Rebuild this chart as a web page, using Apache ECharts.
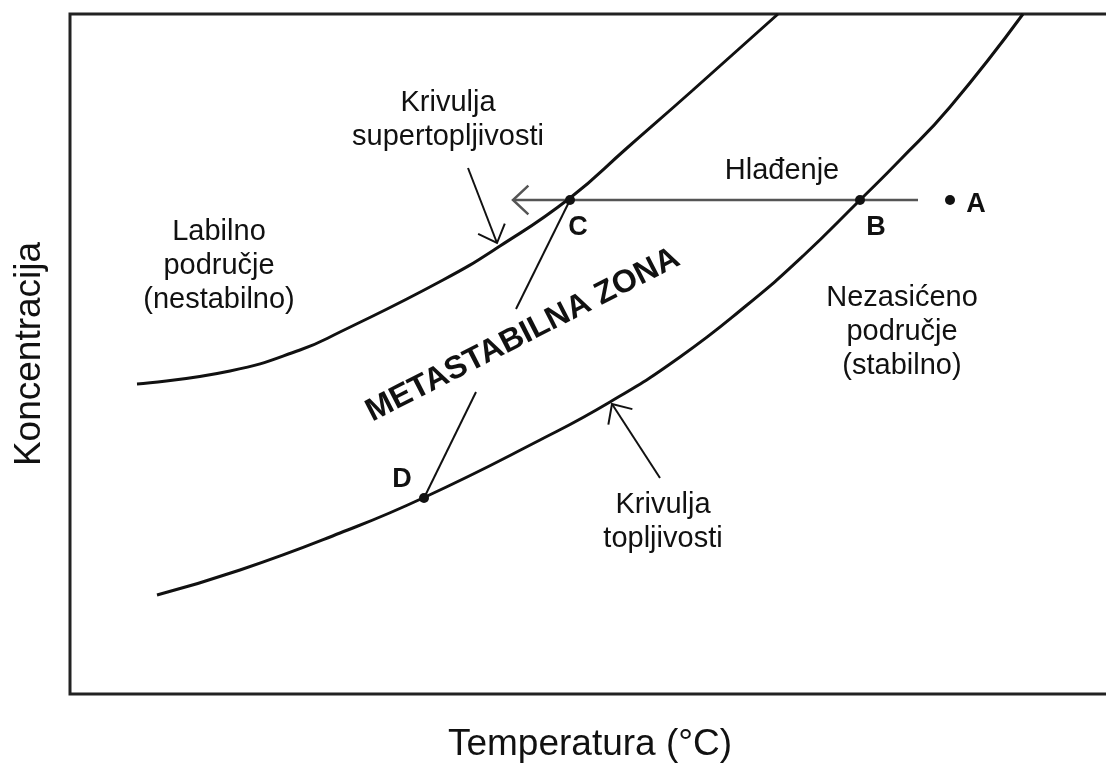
<!DOCTYPE html>
<html>
<head>
<meta charset="utf-8">
<script src="https://cdn.jsdelivr.net/npm/echarts@6/dist/echarts.min.js"></script>
<style>
  html, body { margin: 0; padding: 0; background: #fff; }
  #chart { width: 1106px; height: 763px; }
</style>
</head>
<body>
<div id="chart"></div>
<script>
// schematic units: x = temperature, y = concentration (plot box 0..1040 x 0..680)
const superSolubility = [[67, 310], [160, 323], [230, 344], [270, 362], [373, 414], [430, 448], [500, 496], [557, 546], [623, 604], [708, 680]];
const solubility = [[87, 99], [170, 124], [270, 161], [353, 196], [470, 254], [540, 292], [610, 337], [677, 389], [733, 438], [790, 494], [830, 534], [880, 587], [953, 680]];
const pointNames = ['A', 'B', 'C', 'D'];
const pointValues = [[880, 494], [790, 494], [500, 494], [354, 196]];
const pointLabelPos = [[906, 489], [806, 466], [508, 466], [332, 214]];
const coolingLine = [[848, 494], [443, 494]];
const cdSegments = [[[500, 494], [446, 385]], [[406, 302], [354, 196]]];
const arrows = [[[398, 526], [427, 451]], [[590, 216], [542, 290]]];
const labels = [
  { text: 'Krivulja\nsupertopljivosti', pos: [378, 574] },
  { text: 'Labilno\npodručje\n(nestabilno)', pos: [149, 428] },
  { text: 'Hlađenje', pos: [712, 523] },
  { text: 'Nezasićeno\npodručje\n(stabilno)', pos: [832, 362] },
  { text: 'Krivulja\ntopljivosti', pos: [593, 172] }
];
const zoneLabel = { text: 'METASTABILNA ZONA', pos: [453, 359], angle: 27 };

const font = 'Liberation Sans, Arial, sans-serif';
const chart = echarts.init(document.getElementById('chart'));

function arrowItem(params, api) {
  const p0 = api.coord([api.value(0), api.value(1)]);
  const p1 = api.coord([api.value(2), api.value(3)]);
  const gray = api.value(5) ? true : false;
  const color = gray ? '#555' : '#111';
  const width = gray ? 2.5 : 2;
  const children = [{
    type: 'line',
    shape: { x1: p0[0], y1: p0[1], x2: p1[0], y2: p1[1] },
    style: { stroke: color, lineWidth: width }
  }];
  if (api.value(4)) {
    const ang = Math.atan2(p0[1] - p1[1], p0[0] - p1[0]);
    const len = 21, spread = 0.75;
    const a1 = [p1[0] + len * Math.cos(ang + spread), p1[1] + len * Math.sin(ang + spread)];
    const a2 = [p1[0] + len * Math.cos(ang - spread), p1[1] + len * Math.sin(ang - spread)];
    children.push({
      type: 'polyline',
      shape: { points: [a1, p1, a2] },
      style: { stroke: color, lineWidth: width, fill: null }
    });
  }
  return { type: 'group', children: children };
}

// [x0, y0, x1, y1, hasHead, isGray]
const segData = [];
segData.push([coolingLine[0][0], coolingLine[0][1], coolingLine[1][0], coolingLine[1][1], 1, 1]);
cdSegments.forEach(s => segData.push([s[0][0], s[0][1], s[1][0], s[1][1], 0, 0]));
arrows.forEach(a => segData.push([a[0][0], a[0][1], a[1][0], a[1][1], 1, 0]));

const textData = labels.map(l => ({
  value: l.pos, name: l.text,
  label: { fontSize: 29, lineHeight: 34 }
}));
textData.push({
  value: zoneLabel.pos, name: zoneLabel.text,
  label: { fontSize: 32, fontWeight: 'bold', rotate: zoneLabel.angle }
});
pointNames.forEach((n, i) => textData.push({
  value: pointLabelPos[i], name: n,
  label: { fontSize: 27, fontWeight: 'bold' }
}));

const option = {
  animation: false,
  grid: {
    left: 70, top: 14, right: -4, bottom: 69,
    containLabel: false, outerBoundsMode: 'none',
    show: true, borderColor: '#222', borderWidth: 3
  },
  xAxis: {
    type: 'value', min: 0, max: 1040,
    name: 'Temperatura (°C)', nameLocation: 'middle', nameGap: 32,
    nameTextStyle: { fontSize: 37, color: '#111', fontFamily: font },
    axisLine: { show: false }, axisTick: { show: false }, axisLabel: { show: false }, splitLine: { show: false }
  },
  yAxis: {
    type: 'value', min: 0, max: 680,
    name: 'Koncentracija', nameLocation: 'middle', nameGap: 22,
    nameTextStyle: { fontSize: 37, color: '#111', fontFamily: font },
    axisLine: { show: false }, axisTick: { show: false }, axisLabel: { show: false }, splitLine: { show: false }
  },
  series: [
    {
      type: 'line', data: superSolubility, smooth: 0.5, symbol: 'none',
      lineStyle: { color: '#111', width: 3 }
    },
    {
      type: 'line', data: solubility, smooth: 0.5, symbol: 'none',
      lineStyle: { color: '#111', width: 3 }
    },
    {
      type: 'custom', renderItem: arrowItem, data: segData, z: 3
    },
    {
      type: 'scatter', data: pointValues, symbolSize: 10, z: 4,
      itemStyle: { color: '#111', opacity: 1 }
    },
    {
      type: 'scatter', data: textData, symbolSize: 0, z: 5,
      itemStyle: { opacity: 1 },
      label: {
        show: true, position: 'inside', formatter: p => p.name,
        color: '#111', fontFamily: font, align: 'center', verticalAlign: 'middle'
      }
    }
  ]
};
chart.setOption(option);
</script>
</body>
</html>
